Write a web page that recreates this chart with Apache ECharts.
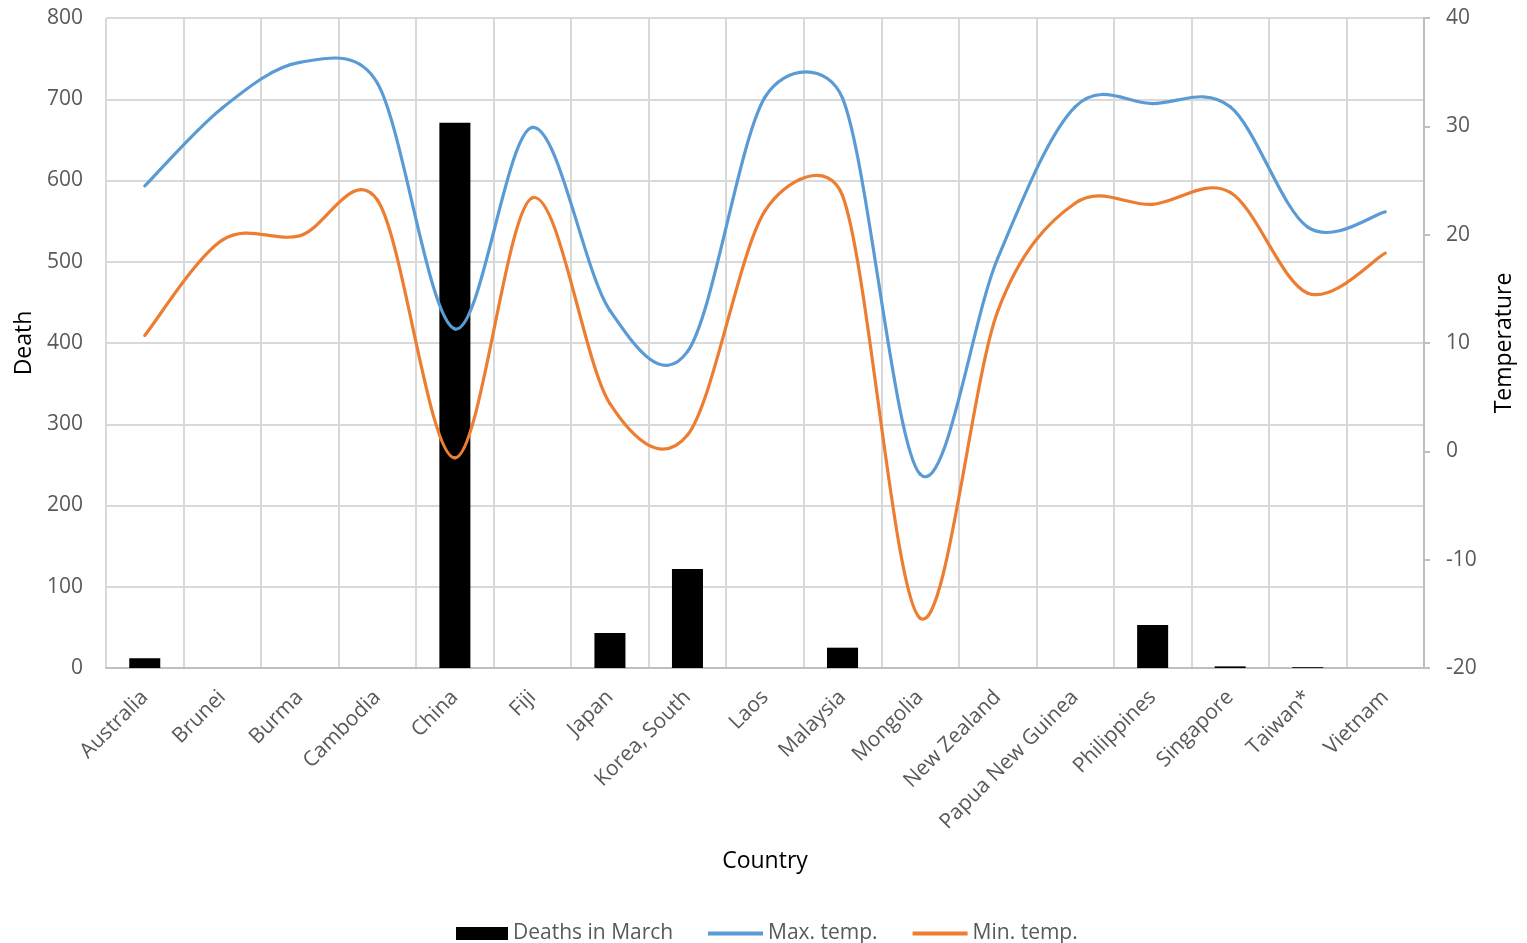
<!DOCTYPE html>
<html><head><meta charset="utf-8">
<script src="https://cdn.jsdelivr.net/npm/echarts@6/dist/echarts.min.js"></script>
<style>html,body{margin:0;padding:0;background:#fff}#c{width:1527px;height:943px}</style>
</head><body><div id="c"></div>
<script>
const countries = ["Australia","Brunei","Burma","Cambodia","China","Fiji","Japan","Korea, South","Laos","Malaysia","Mongolia","New Zealand","Papua New Guinea","Philippines","Singapore","Taiwan*","Vietnam"];
const deaths = [12,0,0,0,671,0,43,122,0,25,0,0,0,53,2,1,0];
const maxTemp = [24.5,31.7,35.9,34.0,11.3,29.9,13.0,9.2,32.7,32.6,-2.1,17.8,31.8,32.1,31.8,20.7,22.1];
const minTemp = [10.7,19.5,19.9,23.2,-0.6,23.4,4.4,1.5,22.2,23.6,-15.4,12.9,22.9,22.8,23.9,14.6,18.3];
const leftTicks = {min:0,max:800,interval:100};
const rightTicks = {min:-20,max:40,interval:10};

const FONT = "Open Sans";
const BLUE = '#5b9bd5', ORANGE = '#ed7d31';

// Smooth curve through the points (spreadsheet-style Bezier smoothing), points mapped by the axis scales
function smoothRenderer(values, color){
  return function(params, api){
    const i = params.dataIndex;
    const n = values.length;
    if (i >= n - 1) return null;
    const p = k => { const j = Math.max(0, Math.min(n-1, k)); return api.coord([j, values[j]]); };
    const p0 = p(i-1), p1 = p(i), p2 = p(i+1), p3 = p(i+2);
    const d = (a,b) => Math.hypot(a[0]-b[0], a[1]-b[1]);
    const d02 = d(p0,p2), d12 = d(p1,p2), d13 = d(p1,p3);
    let f = 1/6, g = 1/6;
    if (d02 > 0 && d02/6 > d12/2) f = d12/(2*d02);
    if (d13 > 0 && d13/6 > d12/2) g = d12/(2*d13);
    return {
      type:'bezierCurve',
      shape:{
        x1:p1[0], y1:p1[1], x2:p2[0], y2:p2[1],
        cpx1:p1[0] + (p2[0]-p0[0])*f, cpy1:p1[1] + (p2[1]-p0[1])*f,
        cpx2:p2[0] - (p3[0]-p1[0])*g, cpy2:p2[1] - (p3[1]-p1[1])*g
      },
      style:{stroke:color, lineWidth:3.2, fill:null, lineCap:'round'},
      z2:10
    };
  };
}

const chart = echarts.init(document.getElementById('c'));
chart.setOption({
  animation:false,
  textStyle:{fontFamily:FONT},
  grid:{left:106,right:103,top:18,bottom:275,containLabel:false},
  legend:[{
    left:451,top:918,itemGap:35,itemWidth:52,itemHeight:13,icon:'rect',
    textStyle:{fontSize:21,color:'#595959',fontFamily:FONT},
    data:['Deaths in March']
  },{
    left:703,top:918,itemGap:35,itemWidth:55,itemHeight:4,icon:'rect',
    textStyle:{fontSize:21,color:'#595959',fontFamily:FONT},
    data:['Max. temp.','Min. temp.']
  }],
  xAxis:{
    type:'category',data:countries,boundaryGap:true,
    name:'Country',nameLocation:'middle',nameGap:182,
    nameTextStyle:{fontSize:23,color:'#000',fontFamily:FONT},
    axisLine:{lineStyle:{color:'#bfbfbf',width:2}},
    axisTick:{show:false},
    splitLine:{show:true,lineStyle:{color:'#d9d9d9',width:2}},
    axisLabel:{rotate:45,fontSize:21,color:'#595959',margin:26,interval:0,fontFamily:FONT}
  },
  yAxis:[{
    type:'value',min:leftTicks.min,max:leftTicks.max,interval:leftTicks.interval,
    name:'Death',nameLocation:'middle',nameGap:69,
    nameTextStyle:{fontSize:23,color:'#000',fontFamily:FONT},
    axisLine:{show:false},axisTick:{show:false},
    splitLine:{show:true,lineStyle:{color:'#d9d9d9',width:2}},
    axisLabel:{fontSize:21,color:'#595959',margin:23,fontFamily:FONT}
  },{
    type:'value',min:rightTicks.min,max:rightTicks.max,interval:rightTicks.interval,
    name:'Temperature',nameLocation:'middle',nameGap:69,
    nameTextStyle:{fontSize:23,color:'#000',fontFamily:FONT},
    axisLine:{show:true,lineStyle:{color:'#bfbfbf',width:2}},
    axisTick:{show:true,length:6,lineStyle:{color:'#bfbfbf',width:2}},
    splitLine:{show:false},
    axisLabel:{fontSize:21,color:'#595959',margin:22,fontFamily:FONT}
  }],
  series:[{
    name:'Deaths in March',type:'bar',data:deaths,yAxisIndex:0,barWidth:'40%',
    itemStyle:{color:'#000'},z:2
  },{
    name:'Max. temp.',type:'custom',yAxisIndex:1,
    data:maxTemp.map((v,i)=>[i,v]),
    renderItem:smoothRenderer(maxTemp, BLUE),
    itemStyle:{color:BLUE},z:3,clip:false
  },{
    name:'Min. temp.',type:'custom',yAxisIndex:1,
    data:minTemp.map((v,i)=>[i,v]),
    renderItem:smoothRenderer(minTemp, ORANGE),
    itemStyle:{color:ORANGE},z:3,clip:false
  }]
});
</script></body></html>
